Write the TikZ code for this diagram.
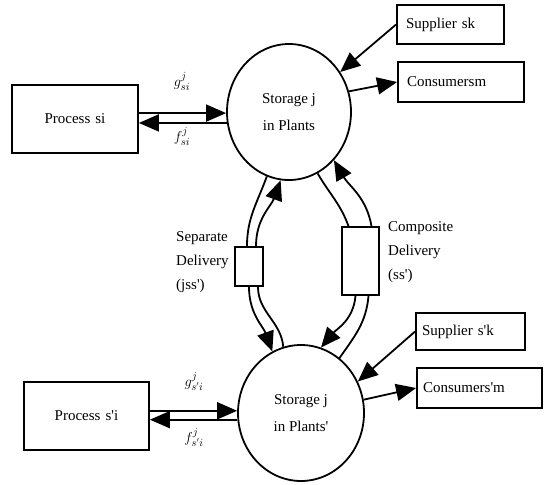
\documentclass[tikz,border=0pt]{standalone}
\usepackage{fontspec}
\setmainfont{Liberation Serif}
\usepackage{tikz}
\usetikzlibrary{arrows.meta,shapes.geometric}
\newcommand{\ap}{\textquotesingle}

\begin{document}
\begin{tikzpicture}[x=1pt,y=-1pt,font=\fontsize{15}{24}\selectfont,
        box/.style={draw,line width=1.8pt,inner xsep=9pt,inner ysep=0pt,align=left},
        plant/.style={draw,ellipse,line width=1.8pt,align=center,inner sep=0pt,
            minimum width=124pt,minimum height=136pt},
        pipe/.style={line width=1.8pt},
        flow/.style={pipe,-{Triangle[length=20pt,width=17pt]}}]
            \useasboundingbox (0,0) rectangle (544,485);

            % storages
            \node [plant] (st) at (289,112) {Storage j\\[3pt]in Plants};
            \node [plant,minimum width=126pt] (stp) at (301,413) {Storage j\\[3pt]in Plants\ap};

            % processes, suppliers, consumers
            \node [box,align=center,text width=108pt,minimum height=68pt] (ps) at (75,119) {Process si};
            \node [box,align=center,text width=107pt,minimum height=68pt] (psp) at (86.5,416) {Process s\ap i};
            \node [box,text width=89pt,minimum height=39pt] (sk) at (450.5,24.5) {Supplier sk};
            \node [box,text width=108pt,minimum height=40pt] (cm) at (461,82) {Consumersm};
            \node [box,inner xsep=6pt,text width=97pt,minimum height=37pt] (skp) at (470.5,331.5) {Supplier s\ap k};
            \node [box,inner xsep=6pt,text width=113pt,minimum height=40pt] (cmp) at (479.5,388) {Consumers\ap m};

            % delivery boxes
            \node [draw,line width=1.8pt,inner sep=0pt,minimum width=28pt,minimum height=39pt] (sd) at (249,266.5) {};
            \node [draw,line width=1.8pt,inner sep=0pt,minimum width=37pt,minimum height=68pt] (cd) at (360.5,261) {};
            \node [anchor=west,inner sep=0pt,align=left] (sdl) at (176,262) {Separate\\Delivery\\(jss\ap)};
            \node [anchor=west,inner sep=0pt,align=left] (cdl) at (388,252) {Composite\\Delivery\\(ss\ap)};

            % process flows
            \draw [flow] (ps.east |- st.181) -- (st.181);
            \draw [flow] (st.190) -- (ps.east |- st.190);
            \draw [flow] (psp.east |- stp.178) -- (stp.178);
            \draw [flow] (stp.186) -- (psp.east |- stp.186);
            \node (gs) at (182,81) {$g^{j}_{si}$};
            \node (fs) at (182,136) {$f^{j}_{si}$};
            \node (gsp) at (194,381) {$g^{j}_{s'i}$};
            \node (fsp) at (194,437) {$f^{j}_{s'i}$};

            % suppliers and consumers
            \draw [flow] (sk.west) -- (st.38);
            \draw [flow] (st.19) -- (cm.west);
            \draw [flow] (skp.west) -- (stp.29);
            \draw [flow] (stp.12) -- (cmp.west);

            % separate delivery
            \draw [pipe] (st.251) to[out=250,in=90] ([xshift=-2pt]sd.north);
            \draw [flow] (sd.south) to[out=270,in=110] (stp.115);
            \draw [pipe] (stp.105) to[out=95,in=270] ([xshift=9pt]sd.south);
            \draw [flow] ([xshift=7pt]sd.north) to[out=90,in=250] (st.263);

            % composite delivery
            \draw [pipe] (st.295) to[out=300,in=110] ([xshift=-12pt]cd.north);
            \draw [flow] ([xshift=11pt]cd.north) to[out=100,in=300] (st.313);
            \draw [flow] ([xshift=-5pt]cd.south) to[out=265,in=50] (stp.73);
            \draw [pipe] ([xshift=8pt]cd.south) to[out=265,in=55] (stp.55);
        \end{tikzpicture}
\end{document}
